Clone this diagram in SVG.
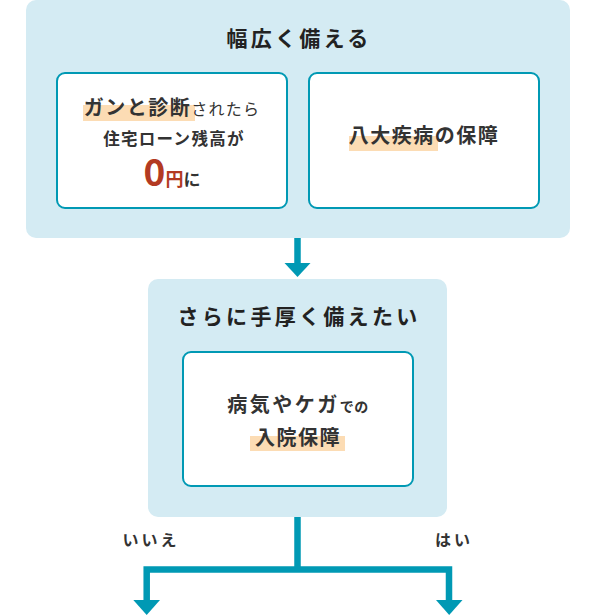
<svg xmlns="http://www.w3.org/2000/svg" width="595" height="616" viewBox="0 0 595 616">
<defs>
<style>
.panel{fill:#d4ebf3}
.card{fill:#fff;stroke:#0099b4;stroke-width:2}
.hl{fill:#fcdcb4}
.t{font-family:"Noto Sans CJK JP","Noto Sans",sans-serif;fill:#333}
.title{font-size:21px;font-weight:bold;letter-spacing:3.3px;fill:#222}
.b{font-weight:bold}
.line{fill:none;stroke:#0099b4;stroke-width:6.5}
.head{fill:#0099b4}
</style>
</defs>
<rect width="595" height="616" fill="#fff"/>
<g id="panel1">
<rect class="panel" x="26" y="0" width="544" height="238" rx="10"/>
<text class="t title" x="299" y="46" text-anchor="middle">幅広く備える</text>
</g>
<g id="card-cancer">
<rect class="card" x="57" y="73" width="230" height="135" rx="8"/>
<rect class="hl" x="83" y="105" width="112" height="16"/>
<text class="t" x="172" y="115" text-anchor="middle"><tspan class="b" font-size="20" letter-spacing="1.5">ガンと診断</tspan><tspan font-size="16" letter-spacing="1.2">されたら</tspan></text>
<text class="t b" x="174" y="145" text-anchor="middle" font-size="16.5" letter-spacing="1.3">住宅ローン残高が</text>
<text class="t" x="172" y="186" text-anchor="middle"><tspan class="b" font-size="37" fill="#b33a22">0</tspan><tspan class="b" font-size="18" fill="#b33a22">円</tspan><tspan class="b" font-size="17">に</tspan></text>
</g>
<g id="card-8diseases">
<rect class="card" x="309" y="73" width="230" height="135" rx="8"/>
<rect class="hl" x="349" y="136" width="89" height="15"/>
<text class="t b" x="424" y="143" text-anchor="middle" font-size="20" letter-spacing="1.5">八大疾病の保障</text>
</g>
<g id="panel2">
<rect class="panel" x="148" y="279" width="299" height="238" rx="10"/>
<text class="t title" x="299" y="324" text-anchor="middle">さらに手厚く備えたい</text>
</g>
<g id="card-hospital">
<rect class="card" x="183" y="352" width="230" height="134" rx="8"/>
<text class="t" x="298" y="412" text-anchor="middle"><tspan class="b" font-size="20" letter-spacing="2.5">病気やケガ</tspan><tspan class="b" font-size="14" letter-spacing="0.5">での</tspan></text>
<rect class="hl" x="250" y="436" width="95" height="15"/>
<text class="t b" x="298" y="445" text-anchor="middle" font-size="20" letter-spacing="1.5">入院保障</text>
</g>
<g id="connectors">
<path class="line" d="M297.5 238 V265"/>
<polygon class="head" points="284.5,263 310.5,263 297.5,277"/>
<path class="line" d="M297.5 517 V569.5 M146.7 602 V569.5 H449 V602"/>
<polygon class="head" points="133.3,600 160,600 146.7,615"/>
<polygon class="head" points="436,600 462.5,600 449.2,615"/>
</g>
<g id="labels">
<text class="t b" x="151" y="546" text-anchor="middle" font-size="16" letter-spacing="3">いいえ</text>
<text class="t b" x="454" y="546" text-anchor="middle" font-size="16" letter-spacing="3">はい</text>
</g>
</svg>
